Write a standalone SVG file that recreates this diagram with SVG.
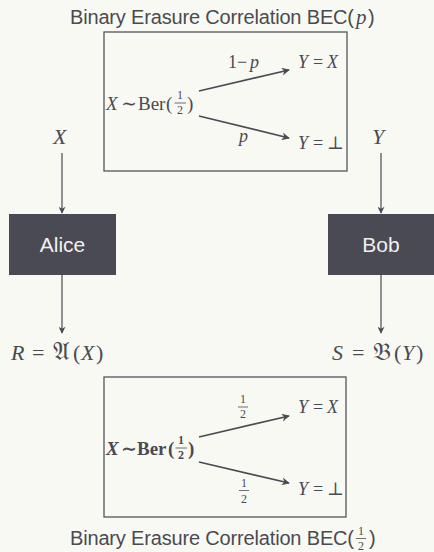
<svg xmlns="http://www.w3.org/2000/svg" width="434" height="552" viewBox="0 0 434 552">
<style>
.t{font-family:"Liberation Sans","DejaVu Sans",sans-serif;fill:#4a4a52}
.m{font-family:"Liberation Serif","DejaVu Serif",serif;fill:#4a4a52}
.i{font-style:italic}
.fk{font-family:"DejaVu Serif","DejaVu Sans",serif;font-style:normal;font-size:25px}
.box{fill:none;stroke:#55555d;stroke-width:1.3}
.party{fill:#4a4a55}
.pl{font-family:"Liberation Sans","DejaVu Sans",sans-serif;fill:#f0f0ee;font-size:21px;text-anchor:middle}
.a{stroke:#4a4a52;stroke-width:1.7;fill:none;marker-end:url(#ah)}
.v{stroke:#4a4a52;stroke-width:1.2;fill:none;marker-end:url(#av)}
.bar{stroke:#4a4a52;stroke-width:0.8}
.fr{font-size:12px;text-anchor:middle}
</style>
<defs>
<marker id="ah" viewBox="0 0 10 10" refX="9" refY="5" markerUnits="userSpaceOnUse" markerWidth="10" markerHeight="8" orient="auto"><path d="M0,0 L10,5 L0,10 L3,5 z" fill="#4a4a52"/></marker>
<marker id="av" viewBox="0 0 10 10" refX="9" refY="5" markerUnits="userSpaceOnUse" markerWidth="8" markerHeight="7" orient="auto"><path d="M0,0 L10,5 L0,10 L3,5 z" fill="#4a4a52"/></marker>
</defs>
<rect width="434" height="552" fill="#f9f9f3"/>

<g id="bec-top">
<text class="t" x="70" y="24" font-size="20" textLength="284" lengthAdjust="spacing">Binary Erasure Correlation BEC(</text>
<text class="m i" x="356" y="24" font-size="21">p</text>
<text class="t" x="368" y="24" font-size="20">)</text>
<rect class="box" x="104" y="32" width="243" height="139"/>
<text class="m" y="110" font-size="19"><tspan class="i" x="106">X</tspan><tspan x="121">∼</tspan><tspan x="138">Ber</tspan><tspan x="166">(</tspan></text>
<text class="m fr" x="180" y="98.5">1</text>
<line class="bar" x1="174.5" y1="103" x2="186" y2="103"/>
<text class="m fr" x="180" y="113.5">2</text>
<text class="m" x="187" y="110" font-size="19">)</text>
<text class="m" y="68" font-size="18"><tspan x="228">1</tspan><tspan x="237">−</tspan><tspan class="i" x="250">p</tspan></text>
<text class="m" y="68" font-size="18"><tspan class="i" x="298">Y</tspan><tspan x="313">=</tspan><tspan class="i" x="327">X</tspan></text>
<text class="m i" x="239" y="142" font-size="18">p</text>
<text class="m" y="149" font-size="18"><tspan class="i" x="298">Y</tspan><tspan x="313">=</tspan><tspan x="327">⊥</tspan></text>
</g>

<g id="alice">
<rect class="party" x="9" y="214" width="107" height="61"/>
<text class="pl" x="62.5" y="252">Alice</text>
</g>
<g id="bob">
<rect class="party" x="328" y="214" width="106" height="61"/>
<text class="pl" x="381" y="252">Bob</text>
</g>

<g id="labels">
<text class="m i" x="53" y="144" font-size="22">X</text>
<text class="m i" x="372" y="144" font-size="22">Y</text>
<text class="m" y="360" font-size="22"><tspan class="i" x="11">R</tspan><tspan x="32">=</tspan><tspan class="fk" x="53">𝔄</tspan><tspan x="73">(</tspan><tspan class="i" x="81">X</tspan><tspan x="96">)</tspan></text>
<text class="m" y="360" font-size="22"><tspan class="i" x="332">S</tspan><tspan x="352">=</tspan><tspan class="fk" x="373">𝔅</tspan><tspan x="394">(</tspan><tspan class="i" x="402">Y</tspan><tspan x="416">)</tspan></text>
</g>

<g id="bec-bottom">
<rect class="box" x="104" y="377" width="242" height="140"/>
<text class="m" y="455" font-size="19" font-weight="bold"><tspan class="i" x="106">X</tspan><tspan x="121">∼</tspan><tspan x="137">Ber</tspan><tspan x="168">(</tspan></text>
<text class="m fr" x="181" y="443.5" font-weight="bold">1</text>
<line class="bar" x1="175.5" y1="448" x2="187" y2="448" stroke-width="1.1"/>
<text class="m fr" x="181" y="458.5" font-weight="bold">2</text>
<text class="m" x="188" y="455" font-size="19" font-weight="bold">)</text>
<text class="m fr" x="243" y="403">1</text>
<line class="bar" x1="238" y1="407" x2="248" y2="407"/>
<text class="m fr" x="243" y="418">2</text>
<text class="m fr" x="244" y="487">1</text>
<line class="bar" x1="239" y1="490.5" x2="249" y2="490.5"/>
<text class="m fr" x="244" y="503">2</text>
<text class="m" y="413" font-size="18"><tspan class="i" x="298">Y</tspan><tspan x="313">=</tspan><tspan class="i" x="327">X</tspan></text>
<text class="m" y="495" font-size="18"><tspan class="i" x="298">Y</tspan><tspan x="313">=</tspan><tspan x="327">⊥</tspan></text>
<text class="t" x="70" y="545" font-size="20" textLength="284" lengthAdjust="spacing">Binary Erasure Correlation BEC(</text>
<text class="m fr" x="361" y="535">1</text>
<line class="bar" x1="356" y1="538.5" x2="366" y2="538.5"/>
<text class="m fr" x="361" y="549.5">2</text>
<text class="t" x="369" y="545" font-size="20">)</text>
</g>

<g id="connectors">
<line class="a" x1="199" y1="91" x2="289" y2="70"/>
<line class="a" x1="199" y1="116" x2="289" y2="138"/>
<line class="a" x1="199" y1="437" x2="289" y2="416"/>
<line class="a" x1="199" y1="462" x2="289" y2="483"/>
<line class="v" x1="62" y1="153" x2="62" y2="213"/>
<line class="v" x1="381" y1="153" x2="381" y2="213"/>
<line class="v" x1="62" y1="275" x2="62" y2="333"/>
<line class="v" x1="381" y1="275" x2="381" y2="333"/>
</g>
</svg>
